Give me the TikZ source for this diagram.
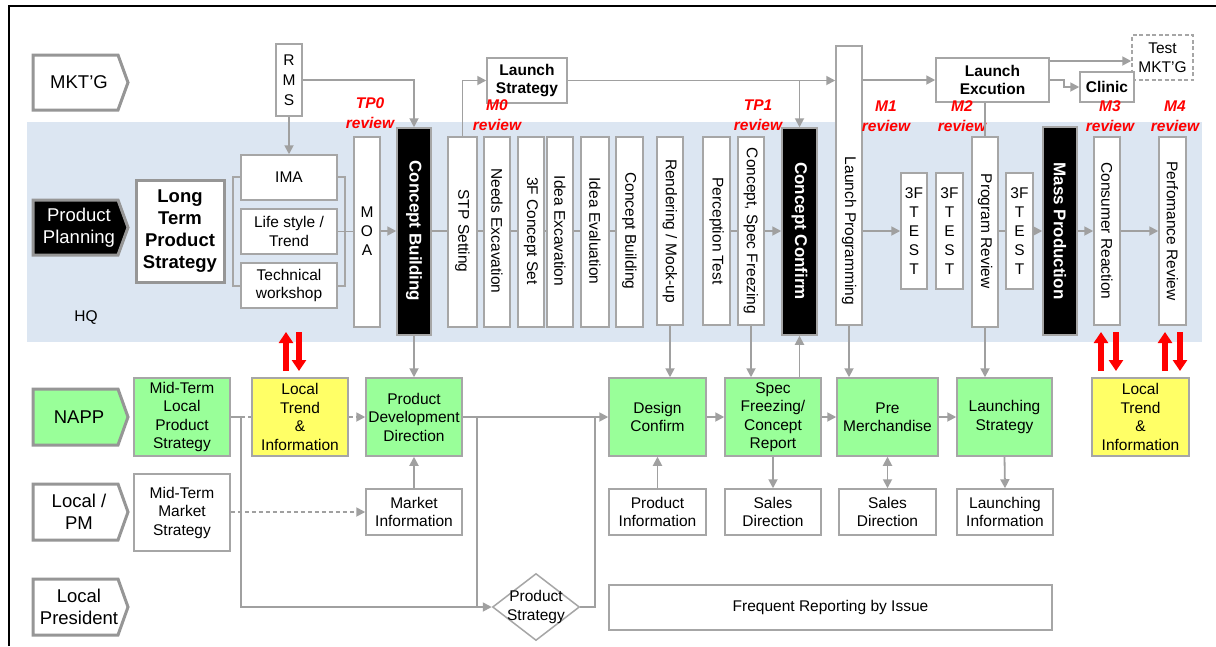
\documentclass[tikz,border=0pt]{standalone}
\usepackage{fontspec}
\setmainfont{Liberation Sans}
\usetikzlibrary{arrows.meta,shapes.geometric}
\definecolor{band}{RGB}{220,230,242}
\definecolor{lgreen}{RGB}{153,255,153}
\definecolor{lyellow}{RGB}{255,255,102}
\definecolor{edge}{RGB}{166,166,166}
\definecolor{conn}{RGB}{160,160,160}
\definecolor{laneedge}{RGB}{150,150,150}

% box from corner (x1,y1) to (x2,y2): name, x1, y1, x2, y2, style, text
\newcommand\bx[7]{\node[#6, minimum width={(#4)-(#2)}, minimum height={(#5)-(#3)}] (#1) at ({((#2)+(#4))/2},{((#3)+(#5))/2}) {#7};}
% swim-lane tag: name, y1, y2, style, text style, text
\newcommand\lanetag[6]{%
  \draw[lanebox,#4] (33,#2) -- (118,#2) -- (128,{((#2)+(#3))/2}) -- (118,#3) -- (33,#3) -- cycle;
  \node[lanetxt,#5] (#1) at (79,{((#2)+(#3))/2}) {#6};}

\begin{document}
\begin{tikzpicture}[x=1pt,y=-1pt,
  fs/.style={font=\fontsize{15.5}{18.5}\selectfont},
  box/.style={draw=edge, line width=1.5pt, fill=white, inner sep=0pt, align=center, fs},
  gbox/.style={box, fill=lgreen},
  ybox/.style={box, fill=lyellow},
  boldbox/.style={box, font=\bfseries\fontsize{15.5}{18.5}\selectfont},
  blk/.style={draw=edge, line width=1.5pt, fill=black, inner sep=0pt},
  ln/.style={draw=conn, line width=1.8pt},
  arr/.style={ln, -{Triangle[length=9pt,width=9pt]}},
  dbl/.style={ln, {Triangle[length=9pt,width=9pt]}-{Triangle[length=9pt,width=9pt]}},
  dashln/.style={ln, dash pattern=on 4pt off 3pt},
  vtxt/.style={rotate=-90, fs, inner sep=0pt},
  btxt/.style={rotate=-90, font=\bfseries\fontsize{17}{20}\selectfont, text=white, inner sep=0pt},
  stack/.style={font=\fontsize{15.5}{19}\selectfont, align=center, inner sep=0pt},
  rev/.style={text=red, font=\bfseries\itshape\fontsize{15.5}{20}\selectfont, align=center, inner sep=0pt},
  redarr/.style={draw=red, line width=6pt, -{Triangle[length=11pt,width=14pt]}},
  lanebox/.style={draw=laneedge, line width=3pt, line join=miter},
  lanetxt/.style={font=\fontsize{18.5}{21.5}\selectfont, align=center, inner sep=0pt},
]
\useasboundingbox (0,0) rectangle (1216,646);
\fill[white] (0,0) rectangle (1216,646);

% outer frame
\draw[line width=1.6pt] (9,646) -- (9,6) -- (1216,6);

% HQ band
\fill[band] (27,122) rectangle (1202,342);
\node[fs, inner sep=0pt] (hq) at (86,318) {HQ};

% swim-lane tags
\lanetag{mktg}{55}{110}{fill=white}{}{MKT'G}
\lanetag{pp}{200}{255}{fill=black}{text=white}{Product\\Planning}
\lanetag{napp}{389}{445}{fill=lgreen}{}{NAPP}
\lanetag{lpm}{484}{540}{fill=white}{}{Local /\\PM}
\lanetag{lpres}{579}{635}{fill=white}{}{Local\\President}

% row line used by the HQ chain
\coordinate (row) at (0,231);

% HQ: long term strategy and its inputs
\bx{ltps}{136}{180}{224}{282}{box, draw=laneedge, line width=3pt, font=\bfseries\fontsize{18.5}{22}\selectfont}{Long\\Term\\Product\\Strategy}
\draw[draw=edge, line width=1.5pt] (233,177) rectangle (345,286);
\bx{ima}{241}{155}{337}{200}{box}{IMA}
\bx{life}{241}{209}{337}{254}{box}{Life style /\\Trend}
\bx{tech}{241}{263}{337}{308}{box}{Technical\\workshop}
\bx{rms}{276}{44}{302}{116}{box, font=\fontsize{15.5}{20}\selectfont}{R\\M\\S}
\bx{moa}{354}{137}{380}{327}{box}{}
\node[stack] at (moa |- row) {M\\O\\A};

% HQ: vertical step boxes
\bx{cb}{397}{128}{431}{335}{blk}{}
\node[btxt] at (cb |- row) {Concept Building};
\bx{stp}{448}{137}{477}{327}{box}{}
\node[vtxt] at (stp |- row) {STP Setting};
\bx{needs}{484}{137}{510}{327}{box}{}
\node[vtxt] at (needs |- row) {Needs Excavation};
\bx{fcs}{518}{137}{544}{327}{box}{}
\node[vtxt] at (fcs |- row) {3F Concept Set};
\bx{iex}{547}{137}{573}{327}{box}{}
\node[vtxt] at (iex |- row) {Idea Excavation};
\bx{iev}{581}{137}{609}{327}{box}{}
\node[vtxt] at (iev |- row) {Idea Evaluation};
\bx{cbb}{616}{137}{643}{327}{box}{}
\node[vtxt] at (cbb |- row) {Concept Building};
\bx{rend}{657}{137}{683}{325}{box}{}
\node[vtxt] at (rend |- row) {Rendering / Mock-up};
\bx{perc}{703}{137}{730}{325}{box}{}
\node[vtxt] at (perc |- row) {Perception Test};
\bx{csf}{738}{137}{764}{325}{box}{}
\node[vtxt] at (csf |- row) {Concept, Spec Freezing};
\bx{cc}{782}{128}{817}{335}{blk}{}
\node[btxt] at (cc |- row) {Concept Confirm};
\bx{lp}{836}{46}{862}{325}{box}{}
\node[vtxt] at (lp |- row) {Launch Programming};
\bx{ta}{901}{173}{927}{289}{box}{}
\node[stack] at (ta |- row) {3F\\T\\E\\S\\T};
\bx{tb}{936}{173}{963}{289}{box}{}
\node[stack] at (tb |- row) {3F\\T\\E\\S\\T};
\bx{pr}{972}{137}{998}{327}{box}{}
\node[vtxt] at (pr |- row) {Program Review};
\bx{tc}{1006}{173}{1033}{289}{box}{}
\node[stack] at (tc |- row) {3F\\T\\E\\S\\T};
\bx{mp}{1043}{127}{1077}{335}{blk}{}
\node[btxt] at (mp |- row) {Mass Production};
\bx{cr}{1094}{137}{1120}{325}{box}{}
\node[vtxt] at (cr |- row) {Consumer Reaction};
\bx{perf}{1159}{137}{1186}{325}{box}{}
\node[vtxt] at (perf |- row) {Perfomance Review};

% marketing boxes
\bx{ls}{487}{58}{567}{103}{boldbox}{Launch\\Strategy}
\bx{le}{936}{58}{1049}{102}{boldbox}{Launch\\Excution}
\bx{tm}{1132}{35}{1193}{80}{box, dash pattern=on 4pt off 2.5pt}{Test\\MKT'G}
\bx{cl}{1080}{72}{1134}{102}{boldbox}{Clinic}

% review milestones
\node[rev] (tp0) at (370,113) {TP0\\review};
\node[rev] (m0) at (497,115) {M0\\review};
\node[rev] (tp1) at (758,115) {TP1\\review};
\node[rev] (m1) at (886,116) {M1\\review};
\node[rev] (m2) at (962,116) {M2\\review};
\node[rev] (m3) at (1110,116) {M3\\review};
\node[rev] (m4) at (1175,116) {M4\\review};

% NAPP row
\bx{mtl}{134}{378}{230}{456}{gbox}{Mid-Term\\Local\\Product\\Strategy}
\bx{lta}{252}{378}{348}{456}{ybox}{Local\\Trend\\\&\\Information}
\bx{pdd}{366}{378}{462}{456}{gbox}{Product\\Development\\Direction}
\bx{dc}{609}{378}{706}{456}{gbox}{Design\\Confirm}
\bx{sf}{725}{378}{821}{456}{gbox}{Spec\\Freezing/\\Concept\\Report}
\bx{pm}{837}{378}{938}{456}{gbox}{Pre\\Merchandise}
\bx{lst}{957}{378}{1052}{456}{gbox}{Launching\\Strategy}
\bx{ltb}{1092}{378}{1189}{456}{ybox}{Local\\Trend\\\&\\Information}

% Local / PM row
\bx{mms}{134}{474}{230}{551}{box}{Mid-Term\\Market\\Strategy}
\bx{mi}{366}{489}{462}{535}{box}{Market\\Information}
\bx{pi}{609}{489}{706}{535}{box}{Product\\Information}
\bx{sda}{725}{489}{821}{535}{box}{Sales\\Direction}
\bx{sdb}{839}{489}{936}{535}{box}{Sales\\Direction}
\bx{li}{957}{489}{1053}{535}{box}{Launching\\Information}

% Local President row
\node[diamond, draw=edge, line width=1.5pt, fill=white, minimum width=87pt, minimum height=67pt, inner sep=0pt] (ps) at (536,607) {};
\node[fs, align=center, inner sep=0pt] at (ps) {Product\\Strategy};
\bx{fr}{609}{585}{1052}{630}{box}{Frequent Reporting by Issue}

% ---- connectors: HQ ----
\draw[arr] (rms.south) -- (ima.north);
\draw[arr] (rms.east) -| (cb.north);
\draw[ln] (life.east) -- (moa.west |- life.east);
\draw[arr] (moa.east |- row) -- (cb.west |- row);
\draw[ln] (cb.east |- row) -- (stp.west |- row);
\draw[ln] (stp.east |- row) -- (needs.west |- row);
\draw[ln] (needs.east |- row) -- (fcs.west |- row);
\draw[ln] (fcs.east |- row) -- (iex.west |- row);
\draw[ln] (iex.east |- row) -- (iev.west |- row);
\draw[ln] (iev.east |- row) -- (cbb.west |- row);
\draw[ln] (perc.east |- row) -- (csf.west |- row);
\draw[arr] (csf.east |- row) -- (cc.west |- row);
\draw[arr] (lp.east |- row) -- (ta.west |- row);
\draw[ln] (pr.east |- row) -- (tc.west |- row);
\draw[arr] (tc.east |- row) -- (mp.west |- row);
\draw[arr] (mp.east |- row) -- (cr.west |- row);
\draw[arr] (cr.east |- row) -- (perf.west |- row);

% ---- connectors: marketing ----
\draw[arr] (stp.north) |- (ls.west);
\draw[arr] (ls.east) -- (ls.east -| lp.west);
\draw[arr] (ls.east -| cc.north) -- (cc.north);
\draw[arr] (lp.east |- le.west) -- (le.west);
\coordinate (tmrow) at (0,61);
\draw[arr] (le.east |- tmrow) -- (tm.west |- tmrow);
\draw[arr] (le.east) -- ++(14,0) |- (cl.west);
\draw[ln] (pr.north |- le.south) -- (pr.north);

% ---- connectors: HQ to NAPP ----
\draw[arr] (cb.south) -- (pdd.north);
\draw[arr] (rend.south) -- (rend.south |- dc.north);
\draw[arr] (csf.south) -- (csf.south |- sf.north);
\draw[arr] (cc.south |- sf.north) -- (cc.south);
\draw[arr] (lp.south) -- (lp.south |- pm.north);
\draw[arr] (pr.south) -- (pr.south |- lst.north);

% ---- connectors: NAPP and local rows ----
\coordinate (split) at (241,417);
\coordinate (psrow) at (0,607);
\coordinate (merge) at (595,417);
\coordinate (branch) at (477,417);
\draw[ln] (mtl.east) -- (split);
\draw[dashln] (split) -- (lta.west);
\draw[dashln, -{Triangle[length=9pt,width=9pt]}] (lta.east) -- (pdd.west);
\draw[arr] (split) |- (ps.west);
\draw[ln] (pdd.east) -- (merge);
\draw[arr] (merge) -- (dc.west);
\draw[ln] (branch) -- (branch |- psrow);
\draw[ln] (ps.east) -| (merge);
\draw[dashln, -{Triangle[length=9pt,width=9pt]}] (mms.east |- mi.west) -- (mi.west);
\draw[arr] (mi.north) -- (pdd.south);
\draw[arr] (pi.north) -- (pi.north |- dc.south);
\draw[arr] (dc.east) -- (sf.west);
\draw[arr] (sf.east) -- (pm.west);
\draw[arr] (pm.east) -- (lst.west);
\draw[arr] (sf.south) -- (sda.north);
\draw[dbl] (pm.south) -- (sdb.north);
\draw[arr] (lst.south) -- (li.north);

% ---- local trend exchange arrows ----
\draw[redarr] (286,371) -- (286,332);
\draw[redarr] (299,332) -- (299,371);
\draw[redarr] (1101,371) -- (1101,332);
\draw[redarr] (1116,332) -- (1116,371);
\draw[redarr] (1165,371) -- (1165,332);
\draw[redarr] (1180,332) -- (1180,371);
\end{tikzpicture}
\end{document}
